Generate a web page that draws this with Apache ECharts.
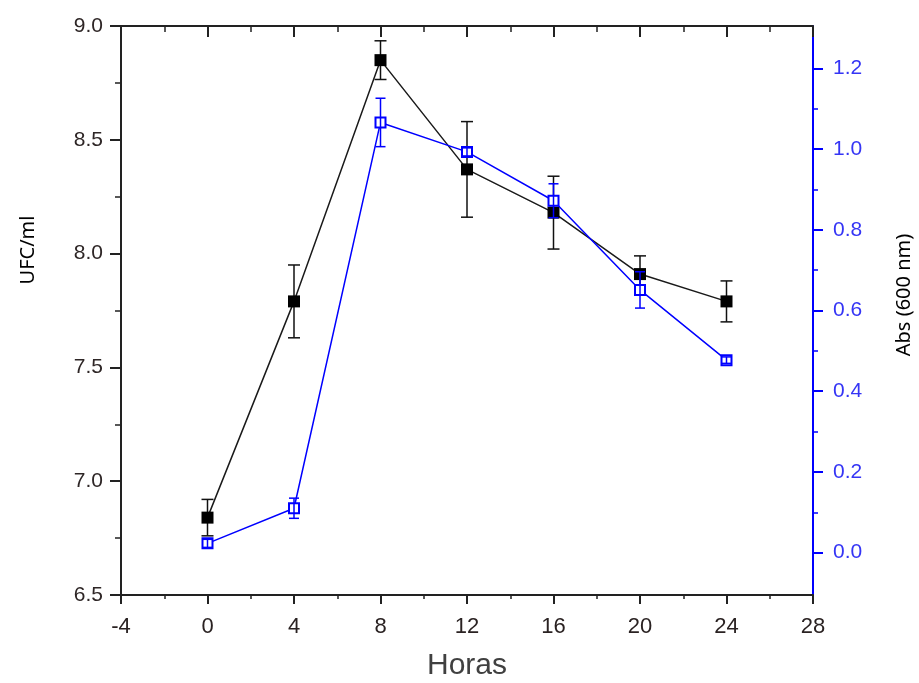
<!DOCTYPE html>
<html>
<head>
<meta charset="utf-8">
<script src="https://cdn.jsdelivr.net/npm/echarts@6/dist/echarts.min.js"></script>
<style>
html,body{margin:0;padding:0;background:#fff;}
#main{width:919px;height:683px;}
</style>
</head>
<body>
<div id="main"></div>
<script>
// datos
var horas=[0,4,8,12,16,20,24];
var ufc=[6.84,7.79,8.85,8.37,8.18,7.91,7.79];
var ufcErr=[0.08,0.16,0.085,0.21,0.16,0.08,0.09];
var abs=[0.023,0.110,1.066,0.993,0.872,0.651,0.477];
var absErr=[0.01,0.025,0.06,0.01,0.042,0.045,0.008];
var absTicks=[0,0.2,0.4,0.6,0.8,1.0,1.2];
var absMinor=[0.1,0.3,0.5,0.7,0.9,1.1];

var chart=echarts.init(document.getElementById('main'));

// barras de error
function errRender(color,cap){
	return function(params,api){
		var x=api.value(0),y=api.value(1),e=api.value(2);
		var hi=api.coord([x,y+e]);
		var lo=api.coord([x,y-e]);
		var st={stroke:color,lineWidth:1.5,fill:null};
		return {type:'group',children:[
			{type:'line',shape:{x1:hi[0],y1:hi[1],x2:lo[0],y2:lo[1]},style:st},
			{type:'line',shape:{x1:hi[0]-cap,y1:hi[1],x2:hi[0]+cap,y2:hi[1]},style:st},
			{type:'line',shape:{x1:lo[0]-cap,y1:lo[1],x2:lo[0]+cap,y2:lo[1]},style:st}
		]};
	};
}

var ufcData=[],ufcErrData=[],absData=[],absErrData=[];
for(var i=0;i<horas.length;i++){
	ufcData.push([horas[i],ufc[i]]);
	ufcErrData.push([horas[i],ufc[i],ufcErr[i]]);
	absData.push([horas[i],abs[i]]);
	absErrData.push([horas[i],abs[i],absErr[i]]);
}

var blue='#0000ff';
var option={
	animation:false,
	backgroundColor:'#fff',
	grid:{left:121,right:106,top:26,bottom:88,outerBoundsMode:'none'},
	graphic:[{
		type:'text',x:28,y:250,rotation:Math.PI/2,
		style:{text:'UFC/ml',fontFamily:'Noto Sans',fontSize:20,fill:'#000',align:'center',verticalAlign:'middle'}
	},{
		type:'text',x:904,y:295,rotation:Math.PI/2,
		style:{text:'Abs (600 nm)',fontFamily:'Noto Sans',fontSize:20,fill:'#000',align:'center',verticalAlign:'middle'}
	}],
	xAxis:[{
		type:'value',min:-4,max:28,interval:4,
		name:'Horas',nameLocation:'middle',nameGap:56,
		nameTextStyle:{fontFamily:'Liberation Sans Narrow, Liberation Sans, Arial',fontSize:30,color:'#404040'},
		axisLine:{onZero:false,lineStyle:{color:'#222',width:2}},
		axisTick:{inside:false,length:9,lineStyle:{color:'#222',width:2}},
		minorTick:{show:true,splitNumber:2,length:4,lineStyle:{color:'#222',width:1.5}},
		axisLabel:{margin:21,fontFamily:'Liberation Sans Narrow, Liberation Sans, Arial',fontSize:22,color:'#2a2222'},
		splitLine:{show:false}
	},{
		type:'value',min:-4,max:28,interval:4,position:'top',
		axisLine:{onZero:false,lineStyle:{color:'#222',width:2}},
		axisTick:{inside:true,length:11,lineStyle:{color:'#222',width:2}},
		minorTick:{show:true,splitNumber:2,length:6,lineStyle:{color:'#222',width:1.5}},
		axisLabel:{show:false},
		splitLine:{show:false}
	}],
	yAxis:[{
		type:'value',min:6.5,max:9.0,interval:0.5,position:'left',
		axisLine:{show:true,onZero:false,lineStyle:{color:'#222',width:2}},
		axisTick:{inside:false,length:11,lineStyle:{color:'#222',width:2}},
		minorTick:{show:true,splitNumber:2,length:6,lineStyle:{color:'#222',width:1.5}},
		axisLabel:{margin:18,fontFamily:'Liberation Sans, Arial',fontSize:21,color:'#2e2626',
			formatter:function(v){return v.toFixed(1);}},
		splitLine:{show:false}
	},{
		type:'value',min:-0.105,max:1.305,position:'right',
		axisLine:{show:true,onZero:false,lineStyle:{color:blue,width:2}},
		axisTick:{inside:false,length:10,customValues:absTicks,lineStyle:{color:blue,width:2}},
		axisLabel:{margin:20,customValues:absTicks,fontFamily:'Liberation Sans, Arial',fontSize:21,color:'#3535f5',
			formatter:function(v){return v.toFixed(1);}},
		splitLine:{show:false}
	},{
		// ticks menores del eje derecho
		type:'value',min:-0.105,max:1.305,position:'right',
		axisLine:{show:false,onZero:false},
		axisTick:{show:true,inside:false,length:5,customValues:absMinor,lineStyle:{color:blue,width:1.5}},
		axisLabel:{show:false},
		splitLine:{show:false}
	}],
	series:[{
		name:'UFC err',type:'custom',xAxisIndex:0,yAxisIndex:0,
		renderItem:errRender('#111',6),
		encode:{x:0,y:1},
		data:ufcErrData,z:2
	},{
		name:'UFC/ml',type:'line',xAxisIndex:0,yAxisIndex:0,
		data:ufcData,
		symbol:'rect',symbolSize:12,
		lineStyle:{color:'#1a1a1a',width:1.5},
		itemStyle:{color:'#000',borderColor:'#000',borderWidth:0},
		z:3
	},{
		name:'Abs',type:'line',xAxisIndex:0,yAxisIndex:1,
		data:absData,
		symbol:'rect',symbolSize:10,showAllSymbol:true,
		lineStyle:{color:blue,width:1.5},
		itemStyle:{color:'#fff',borderColor:blue,borderWidth:2},
		z:4
	},{
		name:'Abs err',type:'custom',xAxisIndex:0,yAxisIndex:1,
		renderItem:errRender(blue,5),
		encode:{x:0,y:1},
		data:absErrData,z:5
	}]
};
chart.setOption(option);
</script>
</body>
</html>
